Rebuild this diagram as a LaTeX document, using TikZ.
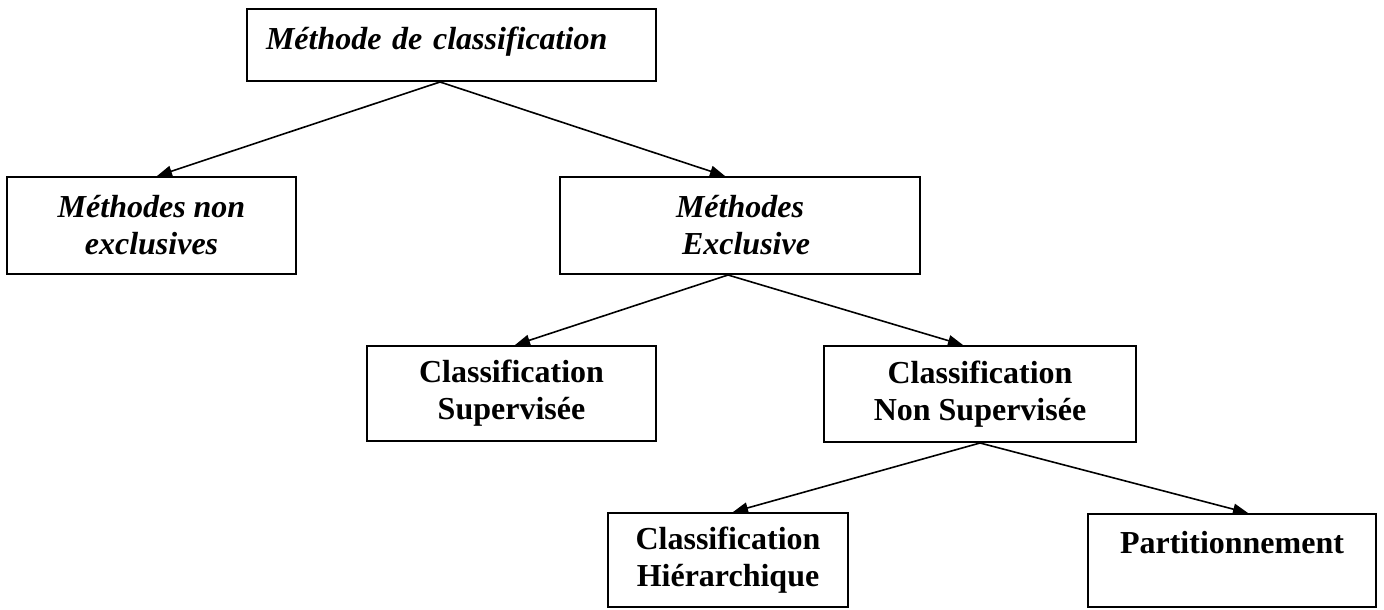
\documentclass[tikz,border=0pt]{standalone}
\usepackage{fontspec}
\setmainfont{Liberation Serif}
\usetikzlibrary{arrows.meta}
\begin{document}
\begin{tikzpicture}[x=1pt,y=-1pt,
  box/.style={draw, line width=2pt, inner sep=0pt, align=center,
    font=\fontsize{32}{37}\selectfont\bfseries},
  ibox/.style={box, font=\fontsize{32}{37}\selectfont\bfseries\itshape},
  link/.style={line width=1.6pt, -{Triangle[length=15pt,width=11pt]}}]
  \useasboundingbox (0,0) rectangle (1384,610);

  % boxes
  \node[ibox, minimum width=409pt, minimum height=72pt, inner xsep=19pt,
        text width=371pt, align=left, text height=22pt, text depth=12pt]
        (root) at (451.5,45) {Méthode de classification};
  \node[ibox, minimum width=289pt, minimum height=97pt] (nonex) at (151.5,225.5)
        {Méthodes non\\exclusives};
  \node[ibox, minimum width=360pt, minimum height=97pt] (excl) at (740,225.5)
        {Méthodes\\\hspace*{12pt}Exclusive};
  \node[box, minimum width=289pt, minimum height=95pt] (sup) at (511.5,393.5)
        {Classification\\Supervisée};
  \node[box, minimum width=312pt, minimum height=96pt] (nsup) at (980,394)
        {Classification\\Non Supervisée};
  \node[box, minimum width=240pt, minimum height=94pt] (hier) at (728,560)
        {Classification\\Hiérarchique};
  \node[box, minimum width=288pt, minimum height=93pt] (part) at (1232,560.5)
        {Partitionnement\\\mbox{}};

  % connectors
  \draw[link] ([xshift=-11.5pt]root.south) -- ([xshift=5.5pt]nonex.north);
  \draw[link] ([xshift=-11.5pt]root.south) -- ([xshift=-15pt]excl.north);
  \draw[link] ([xshift=-12pt]excl.south) -- ([xshift=3.5pt]sup.north);
  \draw[link] ([xshift=-12pt]excl.south) -- ([xshift=-17pt]nsup.north);
  \draw[link] (nsup.south) -- ([xshift=5pt]hier.north);
  \draw[link] (nsup.south) -- ([xshift=16pt]part.north);
\end{tikzpicture}
\end{document}
